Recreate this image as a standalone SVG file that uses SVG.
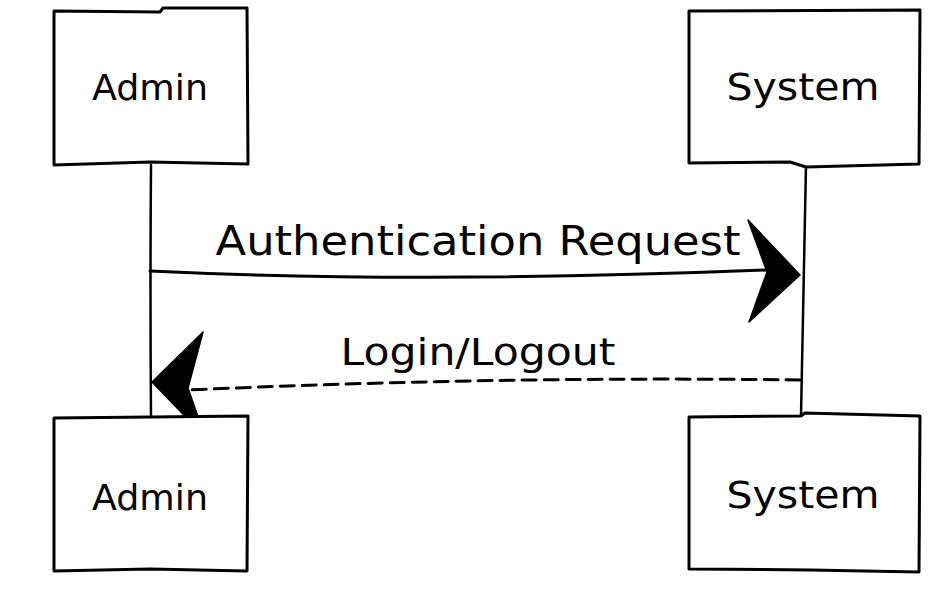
<svg xmlns="http://www.w3.org/2000/svg" width="940" height="598" viewBox="0 0 940 598">
<style>
.box{fill:#ffffff;stroke:#000;stroke-width:3;stroke-linejoin:round;stroke-linecap:round}
.life{fill:none;stroke:#000;stroke-width:2.5;stroke-linecap:round}
.msg{fill:none;stroke:#000;stroke-width:3;stroke-linecap:round}
.dash{stroke-dasharray:14 8}
.head{fill:#000;stroke:#000;stroke-width:1.5;stroke-linejoin:round}
.lbl{font-family:"DejaVu Sans","Liberation Sans",sans-serif;fill:#000;text-anchor:middle}
</style>
<rect width="940" height="598" fill="#ffffff"/>
<g id="connectors">
  <path class="life" d="M151 165 Q150 290 151 417"/>
  <path class="life" d="M806 165 Q804 290 801 416"/>
  <path class="msg" d="M150 271 Q420 284 767 270"/>
  <path class="head" d="M748 220 L800 275 L749 322 L767 272 Z"/>
  <path class="msg dash" d="M800 380 Q500 376 188 390"/>
  <path class="head" d="M203 332 L152 382 L205 437 L188 388 Z"/>
  <text class="lbl" x="478" y="255" font-size="40" textLength="525" lengthAdjust="spacingAndGlyphs">Authentication Request</text>
  <text class="lbl" x="478" y="365" font-size="38" textLength="275" lengthAdjust="spacingAndGlyphs">Login/Logout</text>
</g>
<g id="admin-top">
  <path class="box" d="M54 11 L160 12 L163 8 L247 8 L248 164 L150 162 L54 165 Z"/>
  <text class="lbl" x="150" y="100" font-size="36" textLength="116" lengthAdjust="spacingAndGlyphs">Admin</text>
</g>
<g id="system-top">
  <path class="box" d="M689 11 L920 10 L919 164 L806 167 L790 162 L689 163 Z"/>
  <text class="lbl" x="803" y="100" font-size="38" textLength="153" lengthAdjust="spacingAndGlyphs">System</text>
</g>
<g id="admin-bottom">
  <path class="box" d="M54 418 L151 417 L248 416 L247 571 L150 569 L54 571 Z"/>
  <text class="lbl" x="150" y="510" font-size="36" textLength="116" lengthAdjust="spacingAndGlyphs">Admin</text>
</g>
<g id="system-bottom">
  <path class="box" d="M689 417 L801 416 L805 413 L920 416 L919 572 L810 570 L689 569 Z"/>
  <text class="lbl" x="803" y="508" font-size="38" textLength="153" lengthAdjust="spacingAndGlyphs">System</text>
</g>
</svg>
